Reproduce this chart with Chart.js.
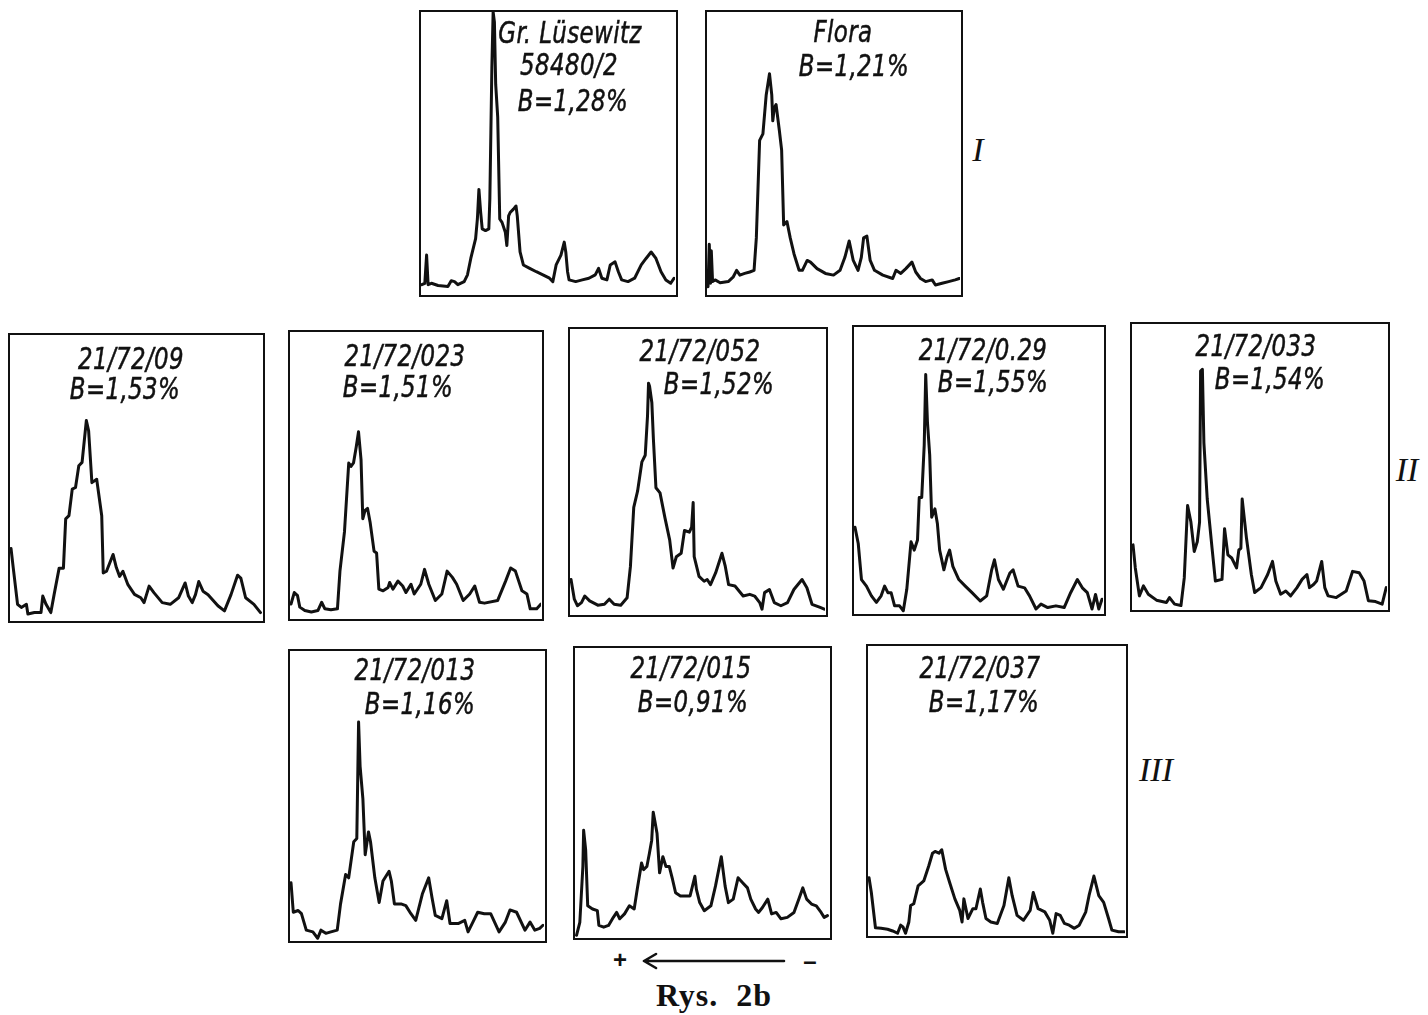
<!DOCTYPE html>
<html>
<head>
<meta charset="utf-8">
<script src="https://cdn.jsdelivr.net/npm/chart.js@4.4.1/dist/chart.umd.min.js"></script>
<style>
  body { margin: 0; background: #fff; width: 1428px; height: 1015px; position: relative; overflow: hidden; }
  .panel { position: absolute; border: 2.5px solid #111; box-sizing: border-box; }
  .panel canvas { position: absolute; left: 0; top: 0; }
  .lbl {
    position: absolute; transform: translate(-50%, -50%) scaleX(0.82); white-space: nowrap;
    font-family: "Liberation Sans Narrow", "DejaVu Sans Condensed", "Liberation Sans", sans-serif;
    font-style: italic; font-size: 31px; letter-spacing: 0.5px; line-height: 1; color: #111;
    -webkit-text-stroke: 0.5px #111;
  }
  .roman { position: absolute; transform: translate(-50%, -50%); font-family: "Liberation Serif", "DejaVu Serif", serif; font-style: italic; font-size: 34px; color: #111; }
  .caption { position: absolute; left: 714px; top: 995px; transform: translate(-50%, -50%); white-space: pre; font-family: "Liberation Serif", "DejaVu Serif", serif; font-weight: bold; font-size: 32px; letter-spacing: 1px; color: #111; }
  .sign { position: absolute; transform: translate(-50%, -50%); font-family: "Liberation Sans", sans-serif; font-weight: bold; font-size: 24px; color: #111; }
</style>
</head>
<body>
<script>
// densitometer traces, x = position along strip (0-100), y = relative density (0-100)
const lusewitz = [[0.3,3.3],[1.5,3.8],[2.2,13.8],[2.8,3.3],[4.1,3.8],[6.7,3.0],[10.6,2.7],[11.9,4.7],[13.2,4.4],[14.5,3.3],[17.0,4.4],[18.3,6.8],[19.6,12.6],[21.5,19.6],[22.2,26.6],[22.8,37.1],[23.5,28.9],[24.1,23.1],[25.4,22.5],[26.7,23.1],[27.1,33.6],[27.9,80.2],[28.4,100],[28.9,96.5],[29.4,74.4],[30.2,62.7],[31.0,26.6],[31.9,25.4],[33.2,21.9],[33.8,17.2],[34.5,27.7],[35.1,28.9],[36.4,30.1],[37.4,31.2],[37.9,27.7],[39.0,14.9],[40.3,10.3],[42.8,9.1],[45.4,7.9],[48.0,6.8],[50.6,5.6],[51.9,4.4],[53.2,10.3],[55.1,13.8],[56.4,18.4],[57.0,14.9],[57.7,7.9],[58.3,5.0],[60.9,4.4],[63.5,5.0],[66.1,5.6],[68.6,6.8],[69.9,9.1],[71.2,5.6],[73.2,5.0],[74.5,10.3],[76.4,11.4],[77.7,7.9],[79.0,5.0],[81.5,4.4],[84.1,5.6],[86.7,10.3],[88.6,12.6],[90.6,14.9],[92.5,12.6],[94.5,7.9],[96.4,5.0],[98.3,3.8],[99.6,5.6]];
const flora = [[0.4,2.6],[0.9,17.6],[1.4,3.8],[1.7,15.3],[2.2,4.4],[3.2,5.0],[5.2,4.0],[8.4,4.4],[10.4,6.1],[11.7,8.4],[13.0,6.7],[14.9,7.3],[16.9,7.8],[18.6,8.4],[19.5,19.9],[20.8,54.5],[22.1,56.8],[23.4,70.6],[24.7,78.1],[25.6,70.6],[26.0,61.4],[26.6,66.0],[27.3,67.2],[28.6,58.0],[29.5,51.0],[30.3,24.5],[31.6,25.7],[32.9,19.9],[34.4,14.2],[36.4,8.4],[37.7,8.4],[39.6,11.9],[40.9,11.3],[43.5,9.0],[46.8,7.3],[50.0,6.7],[52.6,8.4],[54.5,13.0],[56.2,18.8],[57.8,11.9],[59.7,8.4],[61.0,13.0],[61.9,19.9],[63.2,20.5],[64.5,11.9],[66.2,8.4],[69.5,6.7],[73.4,5.5],[74.7,8.4],[76.6,7.3],[78.6,9.0],[81.0,11.3],[82.5,7.8],[84.4,5.5],[86.4,4.4],[89.0,5.0],[90.3,3.2],[92.9,3.8],[95.5,4.4],[98.1,5.0],[99.7,5.5]];
const s09 = [[0.4,25.1],[1.3,18.2],[3.0,5.5],[4.5,4.4],[6.5,5.5],[7.1,2.1],[9.7,2.6],[12.3,2.6],[13.0,8.4],[14.3,5.5],[16.2,2.6],[17.5,8.9],[19.5,18.2],[21.2,18.2],[22.1,35.5],[23.4,36.6],[24.7,45.9],[26.0,46.5],[27.3,54.1],[28.6,55.3],[30.3,70.0],[31.2,66.4],[32.5,48.2],[34.4,49.4],[36.4,36.6],[37.0,16.5],[38.3,17.1],[40.9,23.0],[42.2,18.4],[43.5,15.3],[44.8,17.1],[46.8,12.4],[49.4,9.0],[51.9,7.8],[53.2,6.1],[55.2,11.9],[57.1,9.6],[60.4,6.1],[63.6,5.5],[66.9,7.8],[69.5,13.0],[70.8,8.4],[72.3,6.1],[73.6,8.9],[74.9,13.5],[76.6,10.1],[78.6,8.9],[82.5,5.0],[85.1,3.2],[87.7,8.9],[90.3,15.7],[91.6,14.7],[93.5,7.8],[96.8,5.5],[99.4,2.6]];
const s023 = [[0.4,4.9],[1.7,8.9],[3.0,7.8],[3.9,3.8],[5.9,2.6],[8.5,2.1],[11.1,2.6],[12.6,5.5],[13.9,3.2],[16.3,2.9],[18.9,3.2],[19.9,16.4],[21.7,30.1],[23.4,54.2],[24.3,53.0],[25.3,54.2],[26.4,59.9],[27.3,65.1],[28.3,55.4],[29.0,34.7],[29.9,37.6],[30.9,38.3],[31.9,33.6],[33.5,23.3],[34.5,22.7],[35.4,10.1],[37.1,9.5],[39.1,10.7],[39.7,12.4],[41.0,10.1],[43.0,12.9],[44.9,11.2],[46.2,8.9],[48.2,11.8],[49.5,8.4],[52.1,11.8],[53.6,17.0],[55.3,11.8],[57.9,6.1],[60.5,8.4],[62.6,16.4],[64.7,14.2],[66.4,11.8],[69.0,6.1],[71.6,8.4],[73.6,11.2],[75.5,5.5],[77.5,5.2],[82.7,6.1],[85.9,12.9],[87.9,17.5],[89.8,16.4],[92.4,9.5],[94.4,8.4],[95.7,3.2],[98.3,3.2],[100,4.9]];
const s052 = [[0.4,12.1],[1.7,5.2],[2.9,2.9],[4.5,4.0],[5.8,6.3],[7.7,4.6],[10.9,3.1],[13.5,3.4],[15.4,5.2],[17.3,3.4],[19.9,3.1],[22.4,5.7],[23.7,16.7],[25.0,37.4],[26.5,43.1],[28.2,53.4],[29.5,55.7],[30.4,69.5],[30.8,81.0],[31.2,79.9],[32.1,74.1],[32.7,61.5],[33.7,44.3],[35.3,42.5],[37.2,33.9],[39.1,25.9],[40.4,16.1],[41.7,20.1],[43.6,21.3],[44.9,29.3],[46.8,28.7],[47.7,30.5],[48.3,39.1],[48.7,20.1],[50.6,13.2],[52.6,11.5],[53.8,12.1],[55.1,10.3],[57.1,14.4],[59.6,21.3],[60.9,16.7],[62.2,10.3],[64.7,9.8],[67.9,6.3],[70.5,6.9],[72.4,6.3],[74.4,4.0],[75.3,1.7],[76.3,7.5],[78.2,8.6],[80.1,4.0],[82.7,2.9],[85.3,4.0],[87.8,8.6],[91.0,12.1],[92.9,9.2],[94.9,3.4],[98.1,2.3],[99.7,1.7]];
const s029 = [[0.4,30.0],[1.7,24.3],[3.0,11.7],[5.0,9.4],[7.0,6.0],[9.0,3.7],[10.9,6.0],[12.3,9.4],[13.6,7.1],[14.9,7.1],[16.3,2.5],[18.3,2.5],[19.8,0.8],[21.2,8.3],[22.9,24.9],[24.2,22.0],[25.5,25.5],[26.2,40.4],[27.2,40.4],[28.2,58.7],[28.8,83.4],[29.5,66.7],[30.4,55.3],[31.2,33.5],[32.5,36.4],[33.5,31.2],[34.4,22.0],[36.1,15.1],[37.4,19.7],[38.4,22.0],[39.7,16.3],[42.1,11.7],[44.7,9.4],[47.4,7.1],[50.7,4.2],[53.3,6.0],[55.3,15.1],[56.4,18.6],[58.0,11.7],[60.0,8.3],[62.6,14.0],[63.9,15.1],[65.9,9.4],[68.5,8.8],[70.5,6.0],[73.1,1.4],[75.1,3.1],[77.8,1.9],[81.1,2.5],[84.4,1.9],[87.0,7.1],[89.7,11.7],[91.7,8.8],[93.7,7.1],[95.6,1.4],[97.0,6.5],[98.3,1.4],[99.6,4.8]];
const s033 = [[0.4,22.5],[1.3,14.4],[2.9,4.6],[4.5,8.1],[6.4,5.2],[9.6,3.1],[13.5,2.3],[14.7,4.0],[16.7,1.7],[19.2,1.2],[20.5,10.9],[21.8,36.3],[23.1,30.5],[24.4,20.2],[25.6,23.6],[26.5,30.5],[26.9,83.5],[27.6,84.1],[28.2,58.2],[29.5,38.6],[31.4,21.3],[32.7,9.8],[35.3,10.4],[36.3,28.2],[37.6,19.0],[39.1,17.9],[41.0,14.4],[41.9,20.7],[42.7,21.3],[43.2,38.6],[44.9,24.8],[46.8,12.1],[48.1,5.8],[50.6,7.5],[53.2,12.1],[55.1,16.7],[56.4,9.8],[58.3,5.2],[60.3,6.3],[62.2,4.6],[64.7,7.5],[66.7,10.4],[68.6,12.1],[69.6,7.5],[71.2,8.6],[72.4,9.8],[74.4,16.7],[75.6,7.5],[76.9,4.6],[80.1,4.0],[84.0,6.3],[86.5,13.2],[89.1,12.7],[91.0,9.8],[92.7,2.9],[95.5,2.6],[98.1,1.7],[99.7,7.5]];
const s013 = [[0.4,19.8],[1.3,9.6],[3.2,10.2],[4.5,9.1],[6.4,3.4],[9.0,2.8],[10.9,0.6],[12.2,3.4],[14.1,2.3],[16.1,2.8],[18.6,3.4],[19.9,12.5],[21.9,22.7],[23.1,21.5],[25.1,34.0],[26.3,35.1],[27.0,75.4],[27.6,60.1],[28.7,48.8],[29.6,29.5],[30.9,37.4],[31.7,34.0],[33.4,21.5],[35.1,13.0],[36.6,20.4],[39.0,23.8],[39.9,20.4],[41.1,12.5],[43.7,12.5],[45.6,11.9],[47.6,9.1],[49.5,6.8],[52.1,15.9],[54.6,21.5],[55.9,14.7],[57.2,8.5],[59.8,7.4],[61.7,13.6],[63.0,5.7],[66.2,5.7],[68.8,6.8],[70.1,2.8],[72.0,6.2],[73.9,9.6],[76.5,9.1],[79.0,9.1],[82.3,2.8],[84.8,6.2],[86.6,10.4],[89.2,9.6],[92.5,3.4],[94.5,6.2],[96.4,3.4],[98.3,4.0],[99.6,5.1]];
const s015 = [[0.6,0.6],[1.9,5.1],[3.1,24.4],[3.4,36.9],[4.2,30.1],[5.0,10.8],[6.9,9.7],[8.8,9.1],[9.4,4.0],[11.3,3.4],[13.2,4.0],[15.1,6.8],[16.4,8.5],[17.6,6.3],[19.5,8.0],[21.4,10.8],[23.3,9.7],[24.5,16.5],[26.2,25.6],[27.0,23.3],[28.3,24.4],[29.3,29.0],[30.2,33.5],[30.8,43.2],[31.4,40.3],[32.3,35.8],[33.3,22.2],[34.6,27.8],[35.8,24.4],[37.1,24.4],[38.4,19.9],[39.6,15.3],[41.5,14.2],[43.4,14.2],[45.3,14.2],[47.2,21.0],[47.8,16.5],[49.1,11.9],[50.9,9.1],[53.5,10.8],[55.3,17.6],[57.6,27.8],[59.1,17.6],[60.4,11.9],[62.3,13.1],[64.2,20.5],[66.0,18.8],[67.9,17.0],[69.2,13.1],[71.1,9.7],[72.3,8.5],[73.8,10.2],[75.9,13.1],[77.4,8.0],[79.2,8.5],[81.1,6.3],[83.6,6.8],[86.2,8.5],[88.1,13.1],[89.7,17.0],[91.2,13.1],[93.1,11.4],[95.0,10.8],[96.9,8.5],[98.1,6.8],[99.4,7.4]];
const s037 = [[0.4,19.8],[1.3,14.7],[2.9,2.5],[5.1,2.3],[7.6,2.0],[9.6,1.4],[11.5,0.6],[12.7,3.4],[13.6,2.8],[14.6,0.6],[15.9,4.5],[16.6,10.2],[17.8,10.8],[19.5,17.0],[21.7,18.7],[23.6,23.8],[25.1,28.3],[26.1,28.9],[27.6,28.3],[28.7,29.5],[30.2,22.7],[31.8,18.1],[33.8,12.5],[35.7,8.5],[36.6,4.5],[37.3,12.5],[38.9,5.7],[40.8,9.1],[42.0,9.1],[43.7,15.9],[44.6,11.3],[45.9,5.7],[47.8,4.5],[50.3,4.0],[52.9,10.2],[54.8,19.8],[56.1,13.6],[58.0,6.8],[60.5,5.1],[63.1,8.5],[64.3,14.7],[66.2,9.1],[68.8,8.0],[70.7,5.1],[71.9,0.6],[73.2,7.4],[74.8,6.8],[76.4,4.0],[78.3,3.4],[80.3,2.3],[82.2,3.4],[84.7,7.9],[86.0,13.6],[87.9,20.4],[89.8,13.6],[91.7,11.3],[93.6,5.7],[94.9,1.7],[97.5,1.1],[99.7,1.1]];

const traces = [lusewitz, flora, s09, s023, s052, s029, s033, s013, s015, s037];
const sampleNames = [["Gr. Lüsewitz", "58480/2"], ["Flora"], ["21/72/09"], ["21/72/023"], ["21/72/052"], ["21/72/0.29"], ["21/72/033"], ["21/72/013"], ["21/72/015"], ["21/72/037"]];
const boronLabels = ["B=1,28%", "B=1,21%", "B=1,53%", "B=1,51%", "B=1,52%", "B=1,55%", "B=1,54%", "B=1,16%", "B=0,91%", "B=1,17%"];
const groupNames = ["I", "II", "III"];

// layout: panel boxes [left, top, width, height] and label centres
const boxes = [
  [419, 10, 259, 287], [705, 10, 258, 287],
  [8, 333, 257, 290], [288, 330, 256, 291], [568, 327, 260, 290], [852, 325, 254, 291], [1130, 322, 260, 290],
  [288, 649, 259, 294], [573, 646, 259, 294], [866, 644, 262, 294]
];
const labelSpots = [
  [[570, 32], [569, 64], [573, 100]],
  [[843, 31], [854, 65]],
  [[131, 358], [125, 388]],
  [[405, 355], [398, 386]],
  [[700, 350], [719, 383]],
  [[983, 349], [993, 381]],
  [[1256, 345], [1270, 378]],
  [[415, 669], [420, 703]],
  [[691, 667], [693, 701]],
  [[980, 667], [984, 701]]
];
const groupSpots = [[978, 150], [1407, 470], [1156, 770]];

function addText(cls, text, x, y) {
  const d = document.createElement("div");
  d.className = cls;
  d.textContent = text;
  d.style.left = x + "px";
  d.style.top = y + "px";
  document.body.appendChild(d);
}

traces.forEach((pts, i) => {
  const [left, top, w, h] = boxes[i];
  const box = document.createElement("div");
  box.className = "panel";
  box.style.left = left + "px";
  box.style.top = top + "px";
  box.style.width = w + "px";
  box.style.height = h + "px";
  const canvas = document.createElement("canvas");
  canvas.width = w - 5;
  canvas.height = h - 5;
  box.appendChild(canvas);
  document.body.appendChild(box);

  new Chart(canvas, {
    type: "line",
    data: {
      datasets: [{
        data: pts.map(p => ({ x: p[0], y: p[1] })),
        borderColor: "#111",
        borderWidth: 3,
        borderJoinStyle: "round",
        borderCapStyle: "round",
        pointRadius: 0,
        tension: 0,
        fill: false
      }]
    },
    options: {
      responsive: false,
      animation: false,
      events: [],
      layout: { padding: 0 },
      plugins: { legend: { display: false }, tooltip: { enabled: false } },
      scales: {
        x: { type: "linear", min: 0, max: 100, display: false },
        y: { min: 0, max: 100, display: false }
      }
    }
  });

  const lines = sampleNames[i].concat([boronLabels[i]]);
  lines.forEach((t, j) => addText("lbl", t, labelSpots[i][j][0], labelSpots[i][j][1]));
});

groupNames.forEach((g, i) => addText("roman", g, groupSpots[i][0], groupSpots[i][1]));

addText("sign", "+", 620, 960);
addText("sign", "\u2013", 810, 961);
addText("caption", "Rys.  2b", 714, 995);

// electrophoresis direction arrow
const svgNS = "http://www.w3.org/2000/svg";
const svg = document.createElementNS(svgNS, "svg");
svg.setAttribute("width", "160");
svg.setAttribute("height", "20");
svg.style.position = "absolute";
svg.style.left = "636px";
svg.style.top = "951px";
svg.innerHTML = '<path d="M8 10 L148 10 M8 10 L20 3 M8 10 L20 17" stroke="#111" stroke-width="2.6" fill="none" stroke-linecap="round"/>';
document.body.appendChild(svg);
</script>
</body>
</html>
